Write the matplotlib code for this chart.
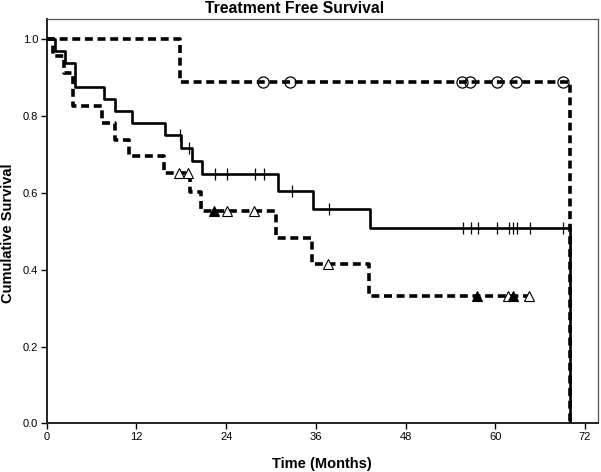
import numpy as np
import matplotlib
matplotlib.use("Agg")
import matplotlib.pyplot as plt

plt.rcParams['font.family'] = ['Liberation Sans', 'DejaVu Sans']

# step curves (time in months, cumulative survival)
circ_t = [0, 17.8, 70.0]
circ_s = [1.0, 0.889, 0.0]
circ_cens = [28.9, 32.5, 55.5, 56.6, 60.2, 62.8, 69.1]

solid_t = [0, 1.1, 2.4, 3.8, 7.7, 9.1, 11.4, 15.8, 18.0, 19.5, 20.8, 30.9, 35.6, 43.3, 70.0]
solid_s = [1.0, 0.969, 0.938, 0.875, 0.844, 0.813, 0.781, 0.750, 0.717, 0.683, 0.649,
           0.606, 0.559, 0.508, 0.0]
solid_cens = [17.8, 19.1, 22.5, 24.1, 27.8, 29.0, 32.8, 37.7, 55.7, 56.7, 57.7, 60.2,
              61.8, 62.4, 62.9, 64.6, 69.1]

tri_t = [0, 0.9, 2.3, 3.55, 7.35, 9.1, 11.0, 15.7, 19.2, 20.7, 30.7, 35.5, 43.1]
tri_s = [1.0, 0.957, 0.913, 0.826, 0.783, 0.739, 0.696, 0.652, 0.602, 0.552, 0.483,
         0.414, 0.331]
tri_end = 64.5
tri_cens = [17.7, 18.9, 22.4, 24.1, 27.7, 37.6, 57.5, 61.7, 62.4, 64.5]
tri_filled = [22.4, 57.5, 62.4]

xticks = [0, 12, 24, 36, 48, 60, 72]
yticks = [0.0, 0.2, 0.4, 0.6, 0.8, 1.0]


def level_at(t, times, surv):
    i = np.searchsorted(times, t, side='right') - 1
    return surv[i]


fig = plt.figure(figsize=(6.01, 4.72), dpi=100)
ax = fig.add_axes([0.0777, 0.103, 0.9168, 0.8567])

dash = (0, (2.2, 1.3))

# circle group
ax.step(circ_t, circ_s, where='post', color='black', lw=2.6, linestyle=dash, zorder=3)
ax.plot(circ_cens, [level_at(t, circ_t, circ_s) for t in circ_cens], 'o', ms=8,
        mfc='none', mec='black', mew=0.9, zorder=5)

# triangle group
tt = tri_t + [tri_end]
ts = tri_s + [tri_s[-1]]
ax.step(tt, ts, where='post', color='black', lw=2.6, linestyle=dash, zorder=3)
for t in tri_cens:
    fc = 'black' if t in tri_filled else 'white'
    ax.plot([t], [level_at(t, tri_t, tri_s)], '^', ms=6.5, mfc=fc, mec='black',
            mew=0.8, zorder=5)

# solid group
ax.step(solid_t, solid_s, where='post', color='black', lw=1.9, zorder=4)
ax.plot(solid_cens, [level_at(t, solid_t, solid_s) for t in solid_cens], '|',
        ms=9, color='black', mew=0.9, zorder=5)

ax.set_xlim(0, 73.7)
ax.set_ylim(0, 1.053)
ax.set_xticks(xticks)
ax.set_xticklabels([str(x) for x in xticks])
ax.set_yticks(yticks)
ax.set_yticklabels(['%.1f' % y for y in yticks])
ax.tick_params(axis='both', direction='out', length=4, width=1, labelsize=8,
               pad=2, colors='black')

for side in ['left', 'bottom']:
    ax.spines[side].set_linewidth(1.4)
    ax.spines[side].set_color('#222222')
for side in ['top', 'right']:
    ax.spines[side].set_linewidth(0.9)
    ax.spines[side].set_color('#555555')

ax.set_xlabel('Time (Months)', fontsize=10.5, fontweight='bold')
ax.xaxis.set_label_coords(0.5, -0.082)
ax.set_ylabel('Cumulative Survival', fontsize=10.5, fontweight='bold')
ax.yaxis.set_label_coords(-0.058, 0.47)
fig.text(0.49, 0.982, 'Treatment Free Survival', ha='center', va='center',
         fontsize=11.3, fontweight='bold')

fig.savefig('out.png', dpi=100)
